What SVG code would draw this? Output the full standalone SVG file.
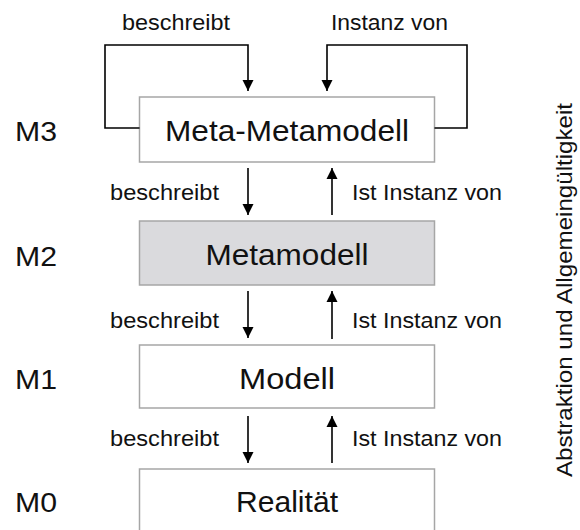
<svg xmlns="http://www.w3.org/2000/svg" width="580" height="530" viewBox="0 0 580 530">
  <style>
    .box { fill: #ffffff; stroke: #a6a6a6; stroke-width: 1.5; }
    .box.grey { fill: #dadadd; }
    .lbl { font-family: "Liberation Sans", Arial, sans-serif; fill: #111111; }
    .big { font-size: 29px; text-anchor: middle; }
    .lvl { font-size: 27px; }
    .small { font-size: 22px; }
    .axis { font-size: 22px; }
    .wire { fill: none; stroke: #000000; stroke-width: 1.6; }
  </style>
  <defs>
    <marker id="head" viewBox="0 0 10 10" refX="10" refY="5" markerWidth="11" markerHeight="12" markerUnits="userSpaceOnUse" orient="auto">
      <path d="M0,0 L10,5 L0,10 z" fill="#000000"/>
    </marker>
  </defs>

  <!-- level labels -->
  <g id="levels">
    <text class="lbl lvl" x="15" y="141" textLength="42" lengthAdjust="spacingAndGlyphs">M3</text>
    <text class="lbl lvl" x="15" y="266" textLength="42" lengthAdjust="spacingAndGlyphs">M2</text>
    <text class="lbl lvl" x="15" y="389" textLength="42" lengthAdjust="spacingAndGlyphs">M1</text>
    <text class="lbl lvl" x="15" y="512" textLength="42" lengthAdjust="spacingAndGlyphs">M0</text>
  </g>

  <!-- nodes -->
  <g id="meta-metamodell">
    <rect class="box" x="139.5" y="97" width="295" height="65"/>
    <text class="lbl big" x="287" y="141" textLength="244" lengthAdjust="spacingAndGlyphs">Meta-Metamodell</text>
  </g>
  <g id="metamodell">
    <rect class="box grey" x="139.5" y="221" width="295" height="64"/>
    <text class="lbl big" x="287" y="265" textLength="163" lengthAdjust="spacingAndGlyphs">Metamodell</text>
  </g>
  <g id="modell">
    <rect class="box" x="139.5" y="345" width="295" height="63"/>
    <text class="lbl big" x="287" y="389" textLength="96" lengthAdjust="spacingAndGlyphs">Modell</text>
  </g>
  <g id="realitaet">
    <rect class="box" x="139.5" y="469" width="295" height="70"/>
    <text class="lbl big" x="287" y="512" textLength="102" lengthAdjust="spacingAndGlyphs">Realität</text>
  </g>

  <!-- connectors -->
  <g id="connectors">
    <!-- self loops on the top level -->
    <path class="wire" d="M139.5,128 H105 V45 H248 V91" marker-end="url(#head)"/>
    <path class="wire" d="M434.5,128 H467 V45 H327 V91" marker-end="url(#head)"/>
    <!-- M3 / M2 -->
    <line class="wire" x1="248" y1="168" x2="248" y2="215" marker-end="url(#head)"/>
    <line class="wire" x1="332" y1="215" x2="332" y2="168" marker-end="url(#head)"/>
    <!-- M2 / M1 -->
    <line class="wire" x1="248" y1="291" x2="248" y2="338" marker-end="url(#head)"/>
    <line class="wire" x1="332" y1="339" x2="332" y2="291" marker-end="url(#head)"/>
    <!-- M1 / M0 -->
    <line class="wire" x1="248" y1="416" x2="248" y2="463" marker-end="url(#head)"/>
    <line class="wire" x1="332" y1="463" x2="332" y2="416" marker-end="url(#head)"/>
  </g>

  <!-- connector labels -->
  <g id="connector-labels">
    <text class="lbl small" x="122" y="30" textLength="108" lengthAdjust="spacingAndGlyphs">beschreibt</text>
    <text class="lbl small" x="331" y="30" textLength="117" lengthAdjust="spacingAndGlyphs">Instanz von</text>

    <text class="lbl small" x="110" y="200" textLength="109" lengthAdjust="spacingAndGlyphs">beschreibt</text>
    <text class="lbl small" x="352" y="200" textLength="150" lengthAdjust="spacingAndGlyphs">Ist Instanz von</text>

    <text class="lbl small" x="110" y="328" textLength="109" lengthAdjust="spacingAndGlyphs">beschreibt</text>
    <text class="lbl small" x="352" y="328" textLength="150" lengthAdjust="spacingAndGlyphs">Ist Instanz von</text>

    <text class="lbl small" x="110" y="446" textLength="109" lengthAdjust="spacingAndGlyphs">beschreibt</text>
    <text class="lbl small" x="352" y="446" textLength="150" lengthAdjust="spacingAndGlyphs">Ist Instanz von</text>
  </g>

  <!-- axis caption -->
  <g id="axis">
    <text class="lbl axis" transform="translate(572,290) rotate(-90)" x="0" y="0" text-anchor="middle" textLength="374" lengthAdjust="spacingAndGlyphs">Abstraktion und Allgemeingültigkeit</text>
  </g>
</svg>
